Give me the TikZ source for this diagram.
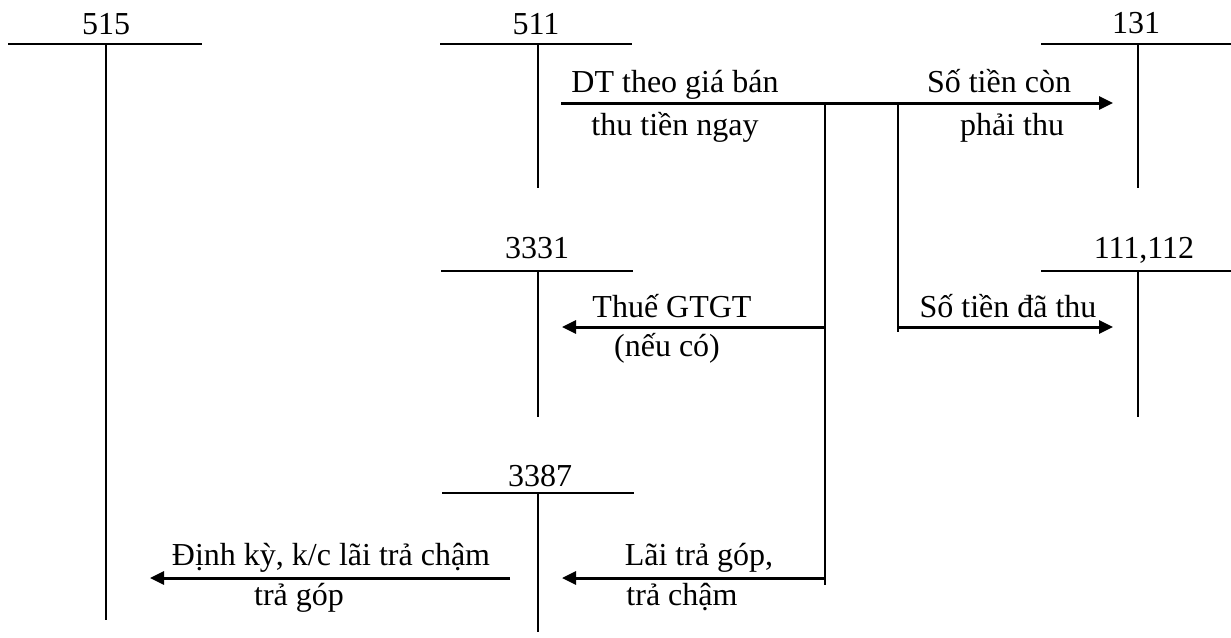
\documentclass[tikz,border=0pt]{standalone}
\usepackage{fontspec}
\setmainfont{Liberation Serif}
\usetikzlibrary{arrows.meta}

\begin{document}
\begin{tikzpicture}[
    x=0.5pt, y=-0.5pt,
    >={Triangle[length=7pt,width=6.5pt]},
    every node/.style={font=\fontsize{16}{19}\selectfont, inner sep=0pt, anchor=base},
    tline/.style={line width=0.8pt},
    flow/.style={->, line width=1.5pt},
    split/.style={line width=0.8pt}
]
\useasboundingbox (0,0) rectangle (1231,637);

% account headings
\node (h515) at (106,34) {515};
\node (h511) at (536,34) {511};
\node (h131) at (1136,33) {131};
\node (h3331) at (537,258) {3331};
\node (h111) at (1144,258) {111,112};
\node (h3387) at (540,486) {3387};

% T accounts
\draw[tline] (8,44) -- (202,44);     \draw[tline] (106,44) -- (106,620);
\draw[tline] (440,44) -- (632,44);   \draw[tline] (538,44) -- (538,188);
\draw[tline] (1041,44) -- (1231,44); \draw[tline] (1138,44) -- (1138,188);
\draw[tline] (441,271) -- (633,271); \draw[tline] (538,271) -- (538,417);
\draw[tline] (1041,271) -- (1231,271); \draw[tline] (1138,271) -- (1138,417);
\draw[tline] (442,493) -- (634,493); \draw[tline] (538,493) -- (538,632);

% flow points
\coordinate (s511) at (561,103);
\coordinate (e131) at (1113,103);
\coordinate (ja) at (825,103);
\coordinate (jb) at (898,103);
\coordinate (ja2) at (825,327);
\coordinate (jb2) at (898,327);
\coordinate (ja3) at (825,578);
\coordinate (e3331) at (562,327);
\coordinate (e111) at (1113,327);
\coordinate (e3387) at (562,578);
\coordinate (s3387) at (510,578);
\coordinate (e515) at (150,578);

% connectors
\draw[flow] (s511) -- (e131);
\draw[split] (ja) -- ([yshift=-3.5pt]ja3);
\draw[split] (jb) -- ([yshift=-2.5pt]jb2);
\draw[flow] (ja2) -- (e3331);
\draw[flow] (jb2) -- (e111);
\draw[flow] (ja3) -- (e3387);
\draw[flow] (s3387) -- (e515);

% labels
\node (dt) at (675,92) {DT theo giá bán};
\node (dt2) at (675,135) {thu tiền ngay};
\node (ct) at (999,92) {Số tiền còn};
\node (ct2) at (1012,135) {phải thu};
\node (vat) at (672,317) {Thuế GTGT};
\node (vat2) at (667,356) {(nếu có)};
\node (dathu) at (1008,317) {Số tiền đã thu};
\node (kc) at (331,565) {Định kỳ, k/c lãi trả chậm};
\node (kc2) at (299,605) {trả góp};
\node (lai) at (699,565) {Lãi trả góp,};
\node (lai2) at (682,605) {trả chậm};
\end{tikzpicture}
\end{document}
